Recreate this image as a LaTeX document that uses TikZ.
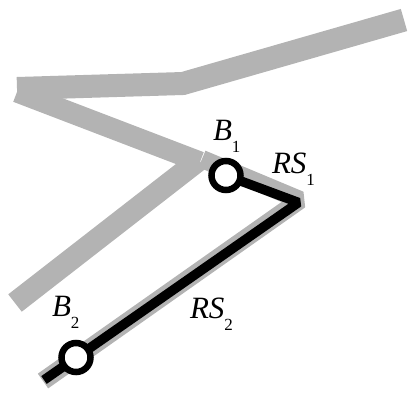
\documentclass[tikz,border=0pt]{standalone}
\usepackage{fontspec}
\setmainfont{Liberation Serif}
\definecolor{roadgray}{RGB}{179,179,179}
\newcommand{\sublbl}[2]{{\fontsize{31pt}{31pt}\selectfont\itshape #1}\raisebox{-12pt}{\fontsize{17pt}{17pt}\selectfont #2}}
\begin{document}
\begin{tikzpicture}[x=1pt,y=-1pt,
  road/.style={draw=roadgray,line width=23pt,line cap=butt,line join=miter},
  routeback/.style={draw=roadgray,line width=18pt,line cap=butt,line join=bevel},
  route/.style={draw=black,line width=9.5pt,line cap=butt,line join=bevel},
  busstop/.style={circle,draw=black,fill=white,line width=6.5pt,minimum size=29pt,inner sep=0pt},
  lbl/.style={anchor=base west,inner sep=0pt,outer sep=0pt}]
\useasboundingbox (0,0) rectangle (417,394);
% coordinates
\coordinate (t1) at (404,20);
\coordinate (t2) at (183,83.5);
\coordinate (t3) at (17,88.5);
\coordinate (d1) at (17,92);
\coordinate (d2) at (200,162);
\coordinate (k1) at (199,160);
\coordinate (k2) at (15,303);
\coordinate (g1) at (202,159);
\coordinate (g2) at (300,200);
\coordinate (g3) at (43,381);
\coordinate (pB1) at (226,175.5);
\coordinate (r2) at (298.5,202.5);
\coordinate (pB2) at (76,357.5);
\coordinate (r3) at (44,380);
% gray roads
\draw[road] (t1) -- (t2) -- (t3);
\draw[road,line width=21pt] (d1) -- (d2);
\draw[road,line width=22pt] (k1) -- (k2);
\draw[routeback] (g1) -- (g2) -- (g3);
% black route
\draw[route] (pB1) -- (r2) -- (r3);
% stops
\node[busstop] (b1) at (pB1) {};
\node[busstop] (b2) at (pB2) {};
% labels
\node[lbl] (lb1) at (213,140) {\sublbl{B}{1}};
\node[lbl] (lrs1) at (272,173) {\sublbl{RS}{1}};
\node[lbl] (lb2) at (52,316.5) {\sublbl{B}{2}};
\node[lbl] (lrs2) at (190,318) {\sublbl{RS}{2}};
\end{tikzpicture}
\end{document}
